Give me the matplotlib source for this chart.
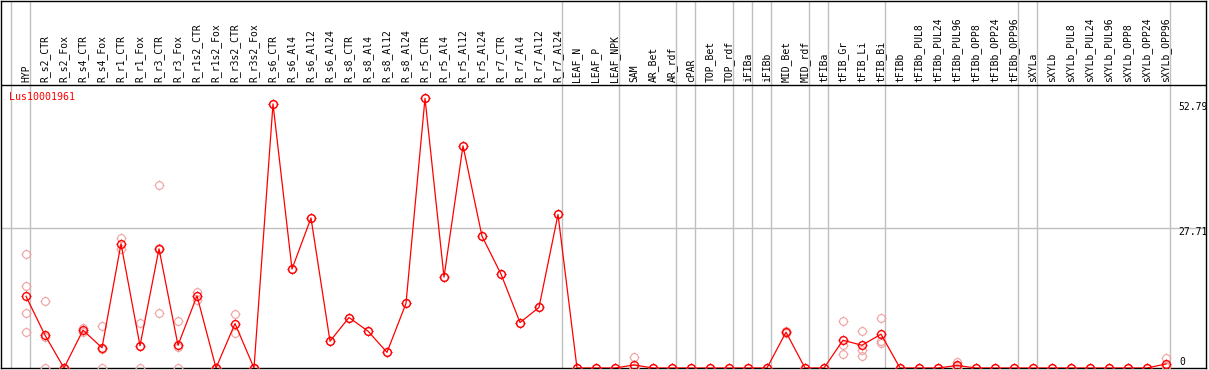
import matplotlib
matplotlib.use("Agg")
import matplotlib.pyplot as plt
from matplotlib.path import Path
from matplotlib.markers import MarkerStyle

gene = "Lus10001961"

samples = ["HYP", "R_s2_CTR", "R_s2_Fox", "R_s4_CTR", "R_s4_Fox", "R_r1_CTR", "R_r1_Fox",
           "R_r3_CTR", "R_r3_Fox", "R_r1s2_CTR", "R_r1s2_Fox", "R_r3s2_CTR", "R_r3s2_Fox",
           "R_s6_CTR", "R_s6_Al4", "R_s6_Al12", "R_s6_Al24", "R_s8_CTR", "R_s8_Al4",
           "R_s8_Al12", "R_s8_Al24", "R_r5_CTR", "R_r5_Al4", "R_r5_Al12", "R_r5_Al24",
           "R_r7_CTR", "R_r7_Al4", "R_r7_Al12", "R_r7_Al24", "LEAF_N", "LEAF_P", "LEAF_NPK",
           "SAM", "AR_Bet", "AR_rdf", "cPAR", "TOP_Bet", "TOP_rdf", "iFIBa", "iFIBb",
           "MID_Bet", "MID_rdf", "tFIBa", "tFIB_Gr", "tFIB_Li", "tFIB_Bi", "tFIBb",
           "tFIBb_PUL8", "tFIBb_PUL24", "tFIBb_PUL96", "tFIBb_OPP8", "tFIBb_OPP24",
           "tFIBb_OPP96", "sXYLa", "sXYLb", "sXYLb_PUL8", "sXYLb_PUL24", "sXYLb_PUL96",
           "sXYLb_OPP8", "sXYLb_OPP24", "sXYLb_OPP96"]

means = [14.2, 6.5, 0, 7.5, 4.0, 24.6, 4.4, 23.6, 4.5, 14.3, 0, 8.8, 0,
         52.3, 19.6, 29.7, 5.3, 10.0, 7.3, 3.1, 12.8, 53.4, 18.0, 44.0, 26.1,
         18.6, 9.0, 12.0, 30.4, 0, 0, 0,
         0.6, 0, 0, 0, 0, 0, 0, 0,
         7.1, 0, 0, 5.5, 4.5, 6.7, 0,
         0, 0, 0.5, 0, 0, 0, 0, 0, 0, 0, 0, 0, 0, 0.8]

replicates = [[22.6, 16.2, 10.8, 7.1], [13.3, 0, 6.2], [0, 0], [7.9, 7.2], [8.3, 0, 3.7],
              [25.8, 23.5], [8.9, 0, 4.3], [36.2, 10.9, 23.7], [9.4, 0, 4.1], [15.1, 13.5],
              [0, 0], [10.7, 7.0], [0, 0],
              [52.3], [19.6], [29.7], [5.3], [10.0], [7.3], [3.1], [12.8], [53.4], [18.0],
              [44.0], [26.1], [18.6], [9.0], [12.0], [30.4], [0], [0], [0],
              [2.1, 0, 0], [0], [0], [0], [0], [0], [0], [0],
              [7.3, 6.9], [0], [0], [9.4, 4.5, 2.7], [7.3, 3.6, 2.4], [9.9, 5.0, 5.3], [0],
              [0], [0], [1.2, 0, 0.3], [0], [0], [0], [0], [0], [0], [0], [0], [0], [0],
              [1.9, 0.4, 0.1]]

# group separators drawn just after these sample indices
group_ends = [-1, 0, 28, 31, 34, 35, 37, 38, 39, 41, 42, 45, 52, 53, 60]

y_marks = [52.79, 27.71, 0]

W, H = 1209, 370
PX = 5.05          # pixels per unit
BASE = 368         # pixel row of zero


def py(v):
    # pixel row -> data value
    return (BASE - v) / PX


fig = plt.figure(figsize=(W / 100, H / 100), dpi=100)
ax = fig.add_axes([1 / W, 2 / H, 1205 / W, 367.5 / H])
ax.set_xlim(-25 / 19, 1180 / 19)
ax.set_ylim(0, py(0.5))
ax.set_xticks([])
ax.set_yticks([])
for s in ax.spines.values():
    s.set_linewidth(1.0)
    s.set_color("black")

# small ticks sticking out of each circle marker
tk = 1.4
tick_path = Path([(0, 1), (0, tk), (0, -1), (0, -tk), (1, 0), (tk, 0), (-1, 0), (-tk, 0)],
                 [Path.MOVETO, Path.LINETO] * 4)
ticks = MarkerStyle(tick_path)

for g in group_ends:
    ax.axvline(g + 0.22, color="#c0c0c0", lw=1.0, zorder=1)
ax.axhline(27.71, color="#c0c0c0", lw=1.0, zorder=1)
ax.axhline(py(85), color="black", lw=1.0, zorder=2)

xs = list(range(len(samples)))
rx, ry = [], []
for i, reps in enumerate(replicates):
    for r in reps:
        rx.append(i)
        ry.append(r)
pale = "#f0a0a0"
ax.plot(rx, ry, ls="none", marker="o", ms=5.6, mfc="none", mec=pale, mew=0.8, zorder=3)
ax.plot(rx, ry, ls="none", marker=ticks, ms=7.8, mec=pale, mew=0.8, zorder=3)
ax.plot(xs, means, color="red", lw=0.9, marker="o", ms=5.6, mfc="none", mec="red",
        mew=1.0, zorder=4)
ax.plot(xs, means, ls="none", marker=ticks, ms=7.8, mec="red", mew=0.9, zorder=4)

for i, name in enumerate(samples):
    ax.text(i, py(82), name, rotation=90, ha="center", va="bottom",
            family="DejaVu Sans Mono", fontsize=7, color="black")

fig.text(9 / W, 1 - 97 / H, gene, color="red", family="DejaVu Sans Mono",
         fontsize=7.2, ha="left", va="center")

for v, ypix in zip(y_marks, [107, 232, 362]):
    xpix = 1178 if v else 1179
    fig.text(xpix / W, 1 - ypix / H, ("%g" % v), family="DejaVu Sans Mono",
             fontsize=7, ha="left", va="center")

fig.savefig("out.png", dpi=100)
